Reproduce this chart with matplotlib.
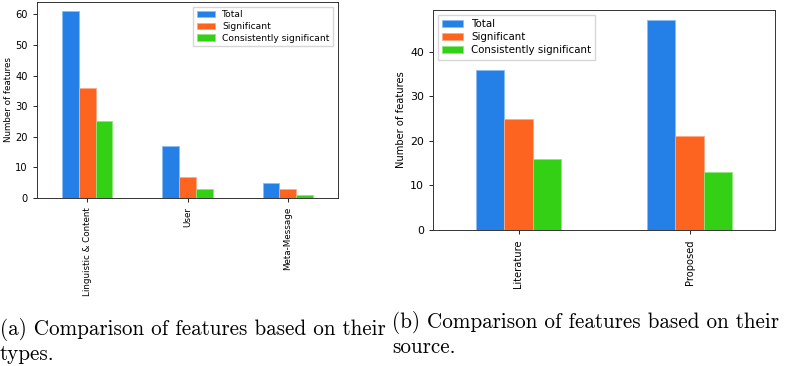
import numpy as np
import matplotlib
matplotlib.use("Agg")
import matplotlib.pyplot as plt

# data
series = ["Total", "Significant", "Consistently significant"]
types_cats = ["Linguistic & Content", "User", "Meta-Message"]
types_vals = [[61, 17, 5], [36, 7, 3], [25, 3, 1]]
source_cats = ["Literature", "Proposed"]
source_vals = [[36, 47], [25, 21], [16, 13]]
colors = ["#2480e6", "#fd6420", "#33d015"]
edges = ["#8cbdf2", "#fdaa85", "#8fe57a"]

W, H = 785, 366
fig = plt.figure(figsize=(W / 100, H / 100), dpi=100)

def px_axes(x0, y0, x1, y1):
    return fig.add_axes([x0 / W, 1 - y1 / H, (x1 - x0) / W, (y1 - y0) / H])

def grouped(ax, cats, vals, fs, loc, lpad):
    n = len(cats)
    x = np.arange(n)
    w = 0.5 / len(vals)
    for i, (v, c, e) in enumerate(zip(vals, colors, edges)):
        ax.bar(x - 0.25 + w * (i + 0.5), v, width=w, color=c, edgecolor=e,
               linewidth=0.6, label=series[i])
    ax.set_xlim(-0.5, n - 0.5)
    ax.set_ylim(0, max(max(v) for v in vals) * 1.05)
    ax.set_xticks(x)
    ax.set_xticklabels(cats, rotation=90, fontsize=fs)
    ax.tick_params(axis="y", labelsize=fs + 0.8, length=3, width=0.6)
    ax.tick_params(axis="x", length=3, width=0.6)
    ax.set_ylabel("Number of features", fontsize=fs, labelpad=lpad)
    for s in ax.spines.values():
        s.set_color("#333333"); s.set_linewidth(0.7)
    ax.legend(loc=loc, fontsize=fs + 0.3, fancybox=False, edgecolor="#cccccc",
              handlelength=2.0, borderpad=0.4, labelspacing=0.3)

ax1 = px_axes(37, 2, 338, 198)
grouped(ax1, types_cats, types_vals, 6.3, "upper right", 1.5)
ax2 = px_axes(433, 10, 775, 230)
grouped(ax2, source_cats, source_vals, 7.1, "upper left", 2.5)

cap = dict(family="cmr10", fontsize=15.2, va="baseline", ha="left")
fig.text(0 / W, 1 - 335 / H, "(a) Comparison of features based on their", **cap)
fig.text(0 / W, 1 - 360 / H, "types.", **cap)
fig.text(392 / W, 1 - 328 / H, "(b) Comparison of features based on their", **cap)
fig.text(392 / W, 1 - 353 / H, "source.", **cap)

fig.savefig("out.png", dpi=100)
